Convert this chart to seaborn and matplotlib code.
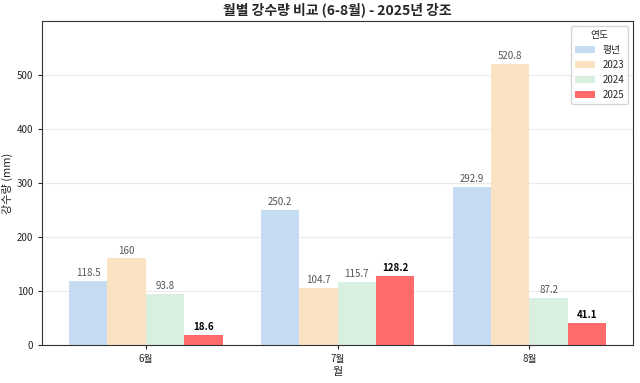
import numpy as np
import pandas as pd
import seaborn as sns
import matplotlib.pyplot as plt

# 월별 강수량 데이터 (mm)
months = ['6월', '7월', '8월']
years = ['평년', '2023', '2024', '2025']
normal = [118.5, 250.2, 292.9]
y2023 = [160.0, 104.7, 520.8]
y2024 = [93.8, 115.7, 87.2]
y2025 = [18.6, 128.2, 41.1]

colors = ['#c6dcf2', '#fbe2c3', '#d9efdf', '#ff6b6b']

df = pd.DataFrame({
    '월': months * 4,
    '연도': [y for y in years for _ in months],
    '강수량': normal + y2023 + y2024 + y2025,
})

sns.set_style('white')
plt.rcParams['font.family'] = ['Noto Sans CJK KR', 'DejaVu Sans']
plt.rcParams['axes.unicode_minus'] = False

fig, ax = plt.subplots(figsize=(6.4, 3.83), dpi=100)
sns.barplot(data=df, x='월', y='강수량', hue='연도', palette=colors,
            width=0.8, saturation=1, linewidth=0, ax=ax, zorder=2)

# 막대 위 값 표시 (2025만 굵게)
series = dict(zip(years, [normal, y2023, y2024, y2025]))
for cont, year in zip(ax.containers, years):
    labels = [f'{v:g}' for v in series[year]]
    if year == '2025':
        ax.bar_label(cont, labels=labels, padding=2, fontsize=7,
                     fontweight='bold', color='black')
    else:
        ax.bar_label(cont, labels=labels, padding=2,
                     fontsize=7, color='#555555')

ax.set_xlim(-0.54, 2.54)
ax.set_ylim(0, max(y2023) * 1.15)
ax.yaxis.grid(True, color='#ebebeb', linewidth=0.8, zorder=0)
ax.set_axisbelow(True)
ax.tick_params(axis='both', labelsize=7, length=3, left=True, bottom=True)
for s in ax.spines.values():
    s.set_color('#333333')
    s.set_linewidth(0.8)

ax.set_title('월별 강수량 비교 (6-8월) - 2025년 강조', fontsize=10, fontweight='bold', pad=5)
ax.set_xlabel('월', fontsize=8, labelpad=2)
ax.set_ylabel('강수량 (mm)', fontsize=8, labelpad=3)
ax.legend(title='연도', fontsize=7, title_fontsize=7, loc='upper right')

plt.subplots_adjust(left=0.066, right=0.989, top=0.944, bottom=0.1)
plt.savefig('out.png', dpi=100)
